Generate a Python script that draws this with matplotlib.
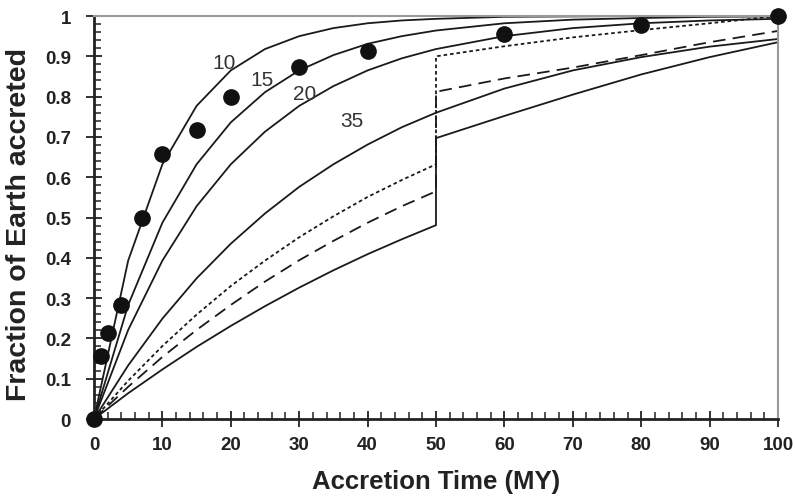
import matplotlib.pyplot as plt
from matplotlib.ticker import MultipleLocator

# accretion time (MY) sample points
t = [0, 5, 10, 15, 20, 25, 30, 35, 40, 45, 50, 60, 70, 80, 90, 100]
t_pre = [0, 5, 10, 15, 20, 25, 30, 35, 40, 45, 50]
t_post = [50, 60, 70, 80, 90, 100]

# smooth accretion curves, labelled by time constant
f10 = [0, 0.393, 0.632, 0.777, 0.865, 0.918, 0.950, 0.970, 0.982, 0.989, 0.993, 0.998, 0.999, 1.0, 1.0, 1.0]
f15 = [0, 0.283, 0.487, 0.632, 0.736, 0.811, 0.865, 0.903, 0.931, 0.950, 0.964, 0.982, 0.991, 0.995, 0.998, 0.999]
f20 = [0, 0.221, 0.393, 0.528, 0.632, 0.713, 0.777, 0.826, 0.865, 0.895, 0.918, 0.950, 0.970, 0.982, 0.989, 0.993]
f35 = [0, 0.133, 0.249, 0.349, 0.435, 0.510, 0.576, 0.632, 0.681, 0.724, 0.760, 0.820, 0.865, 0.898, 0.924, 0.943]
labels = ["10", "15", "20", "35"]
label_pos = [(19.0, 0.885), (24.5, 0.843), (30.8, 0.807), (37.7, 0.74)]

# curves with a giant impact at 50 MY
solid_pre = [0, 0.064, 0.123, 0.179, 0.231, 0.280, 0.326, 0.369, 0.409, 0.446, 0.481]
solid_post = [0.697, 0.752, 0.805, 0.855, 0.898, 0.935]
dash_pre = [0, 0.080, 0.154, 0.221, 0.283, 0.341, 0.394, 0.442, 0.487, 0.528, 0.565]
dash_post = [0.812, 0.845, 0.872, 0.903, 0.935, 0.963]
dot_pre = [0, 0.095, 0.181, 0.259, 0.330, 0.393, 0.451, 0.503, 0.551, 0.593, 0.632]
dot_post = [0.900, 0.925, 0.947, 0.965, 0.982, 1.0]

# observed points
obs_t = [0, 1, 2, 4, 7, 10, 15, 20, 30, 40, 60, 80, 100]
obs_f = [0, 0.156, 0.213, 0.283, 0.499, 0.657, 0.717, 0.80, 0.873, 0.913, 0.955, 0.978, 1.0]

fig = plt.figure(figsize=(7.95, 5.02), dpi=100)
ax = fig.add_axes([0.1182, 0.1633, 0.8604, 0.8028])

lw = 1.3
for f in [f10, f15, f20, f35]:
    ax.plot(t, f, color="#1a1a1a", lw=lw)
ax.plot(t_pre + t_post, solid_pre + solid_post, color="#1a1a1a", lw=lw)
ax.plot(t_pre + t_post, dash_pre + dash_post, color="#1a1a1a", lw=lw, dashes=(7, 4))
ax.plot(t_pre + t_post, dot_pre + dot_post, color="#1a1a1a", lw=lw, dashes=(2, 1.6))

ax.plot(obs_t, obs_f, "o", color="#111111", ms=11, clip_on=False, zorder=5)

for lab, (x, y) in zip(labels, label_pos):
    ax.text(x, y, lab, fontsize=15, color="#333333", ha="center", va="center",
            family="Liberation Sans")

ax.set_xlim(0, 100)
ax.set_ylim(0, 1)
ax.xaxis.set_major_locator(MultipleLocator(10))
ax.xaxis.set_minor_locator(MultipleLocator(2))
ax.yaxis.set_major_locator(MultipleLocator(0.1))
ax.yaxis.set_minor_locator(MultipleLocator(0.02))
ax.tick_params(which="major", direction="inout", length=11, width=1.3, color="#222222")
ax.tick_params(which="minor", direction="in", length=5, width=1.1, color="#222222")
ax.tick_params(axis="x", pad=7)
ax.tick_params(axis="y", pad=11)

ax.set_yticks([i / 10 for i in range(11)])
ax.set_yticklabels(["0", "0.1", "0.2", "0.3", "0.4", "0.5", "0.6", "0.7", "0.8", "0.9", "1"])
for lab in ax.get_xticklabels() + ax.get_yticklabels():
    lab.set_family("Liberation Sans")
    lab.set_fontweight("bold")
    lab.set_fontsize(13.5)
    lab.set_color("#222222")

for s in ["left", "bottom"]:
    ax.spines[s].set_linewidth(2)
    ax.spines[s].set_color("#222222")
for s in ["top", "right"]:
    ax.spines[s].set_linewidth(1.5)
    ax.spines[s].set_color("#999999")

ax.set_xlabel("Accretion Time (MY)", fontsize=18.5, fontweight="bold", color="#222222",
              family="Liberation Sans", labelpad=11)
ax.set_ylabel("Fraction of Earth accreted", fontsize=20.5, fontweight="bold", color="#222222",
              family="Liberation Sans", labelpad=8)
ax.yaxis.set_label_coords(-0.09, 0.485)

fig.savefig("out.png", dpi=100)
